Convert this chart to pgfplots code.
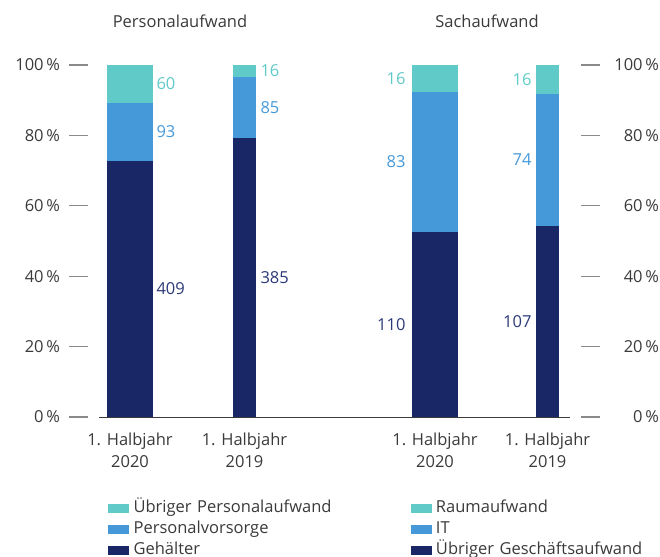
\documentclass[border=0pt]{standalone}
\usepackage{fontspec}
\setmainfont{Open Sans}
\usepackage{pgfplots}
\pgfplotsset{compat=1.18}
\usepackage{pgfplotstable}

\definecolor{cNavy}{HTML}{1A2766}
\definecolor{cNavyText}{HTML}{2C3A78}
\definecolor{cBlue}{HTML}{4699D9}
\definecolor{cTeal}{HTML}{5FCAC7}
\definecolor{cText}{HTML}{3A3A3A}
\definecolor{cTick}{HTML}{8A8A8A}
\newcommand\chartfont{\fontsize{16.5bp}{19bp}\selectfont}

% Aufwand in Mio. (unten / mitte / oben im Stapel)
\pgfplotstableread{
x      unten  mitte  oben
130    409    93     60
}\tabPersonalA
\pgfplotstableread{
x      unten  mitte  oben
244.5  385    85     16
}\tabPersonalB
\pgfplotstableread{
x      unten  mitte  oben
435    110    83     16
}\tabSachA
\pgfplotstableread{
x      unten  mitte  oben
547.5  107    74     16
}\tabSachB

\pgfplotsset{
  legbox/.style={legend image code/.code={\fill[#1] (0bp,-4bp) rectangle (20bp,4bp);}},
}

% one stacked 100 % bar: #1 table, #2 bar width, #3 label anchor, #4 label shift
\newcommand\kostenbalken[4]{%
  \addplot[ybar, bar width=#2, bar shift=0pt, fill=cTeal, draw=none, forget plot]
    table[x=x, y expr={(\thisrow{unten}+\thisrow{mitte}+\thisrow{oben})/(\thisrow{unten}+\thisrow{mitte}+\thisrow{oben})*100}] {#1};
  \addplot[ybar, bar width=#2, bar shift=0pt, fill=cBlue, draw=none, forget plot]
    table[x=x, y expr={(\thisrow{unten}+\thisrow{mitte})/(\thisrow{unten}+\thisrow{mitte}+\thisrow{oben})*100}] {#1};
  \addplot[ybar, bar width=#2, bar shift=0pt, fill=cNavy, draw=none, forget plot]
    table[x=x, y expr={\thisrow{unten}/(\thisrow{unten}+\thisrow{mitte}+\thisrow{oben})*100}] {#1};
  \addplot[draw=none, mark=none, forget plot, point meta=explicit symbolic, nodes near coords,
    nodes near coords style={anchor=#3, xshift=#4, yshift=0pt, font=\chartfont, text=cTeal}]
    table[x=x, y expr={(\thisrow{unten}+\thisrow{mitte}+0.5*\thisrow{oben})/(\thisrow{unten}+\thisrow{mitte}+\thisrow{oben})*100}, meta=oben] {#1};
  \addplot[draw=none, mark=none, forget plot, point meta=explicit symbolic, nodes near coords,
    nodes near coords style={anchor=#3, xshift=#4, yshift=0pt, font=\chartfont, text=cBlue}]
    table[x=x, y expr={(\thisrow{unten}+0.5*\thisrow{mitte})/(\thisrow{unten}+\thisrow{mitte}+\thisrow{oben})*100}, meta=mitte] {#1};
  \addplot[draw=none, mark=none, forget plot, point meta=explicit symbolic, nodes near coords,
    nodes near coords style={anchor=#3, xshift=#4, yshift=0pt, font=\chartfont, text=cNavyText}]
    table[x=x, y expr={0.5*\thisrow{unten}/(\thisrow{unten}+\thisrow{mitte}+\thisrow{oben})*100}, meta=unten] {#1};
}

\begin{document}
\begin{tikzpicture}
\useasboundingbox (0,0) rectangle (660bp,557bp);

\node[anchor=base, font=\chartfont, text=cText] at (180bp,529.7bp) {Personalaufwand};
\node[anchor=base, font=\chartfont, text=cText] at (487bp,529.7bp) {Sachaufwand};

% percentage scale on the right
\begin{axis}[
  at={(69bp,140bp)}, anchor=south west, scale only axis,
  width=531bp, height=352bp,
  xmin=69, xmax=600, ymin=0, ymax=100,
  axis line style={draw=none},
  xtick=\empty,
  ytick={0,20,40,60,80,100},
  yticklabels={0\,\%,20\,\%,40\,\%,60\,\%,80\,\%,100\,\%},
  yticklabel pos=right, major tick length=0pt,
  yticklabel style={anchor=east, xshift=62.5bp, font=\chartfont, text=cText},
]
\end{axis}

\begin{axis}[
  at={(69bp,140bp)}, anchor=south west, scale only axis,
  width=531bp, height=352bp,
  xmin=69, xmax=600, ymin=0, ymax=100,
  clip=false,
  axis line style={draw=none},
  xtick={130,244.5,435,547.5},
  xticklabels={{1. Halbjahr\\2020},{1. Halbjahr\\2019},{1. Halbjahr\\2020},{1. Halbjahr\\2019}},
  xtick style={draw=none},
  xticklabel style={align=center, font=\fontsize{16.5bp}{22bp}\selectfont, text=cText, yshift=-12bp},
  ytick={0,20,40,60,80,100},
  yticklabels={0\,\%,20\,\%,40\,\%,60\,\%,80\,\%,100\,\%},
  ytick pos=both, tick align=inside, major tick length=19bp,
  ytick style={draw=cTick, line width=1.2bp},
  yticklabel style={font=\chartfont, text=cText, xshift=-5.5bp},
  legend columns=2,
  legend cell align=left,
  legend style={
    draw=none, fill=none, inner sep=0pt,
    at={(rel axis cs:0,0)}, anchor=north west, xshift=39bp, yshift=-80.5bp,
    font=\chartfont, text=cText,
    nodes={inner xsep=2bp, inner ysep=2.5bp, text height=12bp, text depth=4bp,
           text width=275bp, align=left},
    /tikz/every odd column/.append style={column sep=3bp},
  },
]
\draw[cText, line width=1bp] (axis cs:99,0) -- (axis cs:570,0);

\kostenbalken{\tabPersonalA}{46bp}{west}{23bp}
\kostenbalken{\tabPersonalB}{23bp}{west}{12.5bp}
\kostenbalken{\tabSachA}{46bp}{east}{-26bp}
\kostenbalken{\tabSachB}{23bp}{east}{-12.5bp}

\addlegendimage{legbox=cTeal}\addlegendentry{Übriger Personalaufwand}
\addlegendimage{legbox=cTeal}\addlegendentry{Raumaufwand}
\addlegendimage{legbox=cBlue}\addlegendentry{Personalvorsorge}
\addlegendimage{legbox=cBlue}\addlegendentry{IT}
\addlegendimage{legbox=cNavy}\addlegendentry{Gehälter}
\addlegendimage{legbox=cNavy}\addlegendentry{Übriger Geschäftsaufwand}
\end{axis}
\end{tikzpicture}
\end{document}
